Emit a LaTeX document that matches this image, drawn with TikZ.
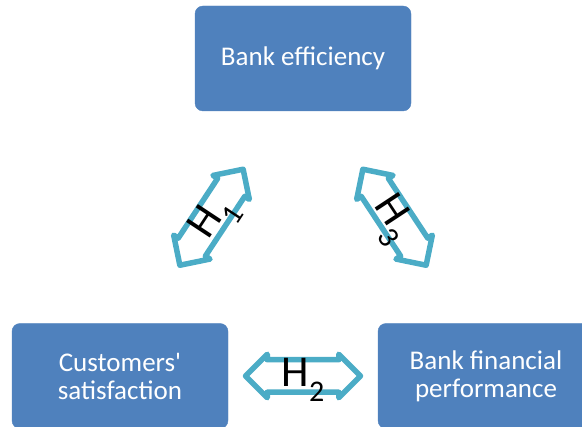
\documentclass[tikz,border=0pt]{standalone}
\usepackage{fontspec}
\setmainfont{Carlito}
\usepackage{tikz}
\usetikzlibrary{shapes.arrows, positioning, calc}
\definecolor{boxblue}{HTML}{4F81BD}
\definecolor{arrowteal}{HTML}{4BACC6}
\newcommand{\hyp}[1]{H\raisebox{-0.34em}{\fontsize{30}{30}\selectfont #1}}

\begin{document}
\begin{tikzpicture}[
  x=1pt, y=1pt,
  factor/.style={rectangle, rounded corners=8pt, draw=boxblue, fill=boxblue, text=white, font=\fontsize{27}{28}\selectfont, align=center, minimum width=216pt, minimum height=105pt, inner sep=0pt},
  linkarrow/.style={double arrow, draw=arrowteal, fill=white, line width=5.5pt, line join=round, double arrow head extend=5.5pt, inner xsep=0pt, inner ysep=13.5pt, minimum height=115pt},
  hyplabel/.style={font=\fontsize{44}{44}\selectfont, inner sep=0pt}
]
  \useasboundingbox (0,0) rectangle (582,427);
  % factors
  \node[factor] (eff) at (303,368.5) {Bank efficiency};
  \node[factor] (sat) at (120,51) {Customers\textquotesingle\\satisfaction};
  \node[factor] (perf) at (486,51) {Bank financial\\performance};
  % hypotheses
  \node[linkarrow, rotate=56.6] (h1) at ($(eff)!0.5!(sat)$) {};
  \node[linkarrow] (h2) at ($(sat)!0.5!(perf)$) {};
  \node[linkarrow, rotate=-56.6] (h3) at ($(eff)!0.5!(perf)$) {};
  \node[hyplabel, rotate=56.6, yshift=-4pt] (l1) at (h1) {\hyp{1}};
  \node[hyplabel, yshift=-4pt] (l2) at (h2) {\hyp{2}};
  \node[hyplabel, rotate=-56.6, yshift=-4pt] (l3) at (h3) {\hyp{3}};
\end{tikzpicture}
\end{document}
